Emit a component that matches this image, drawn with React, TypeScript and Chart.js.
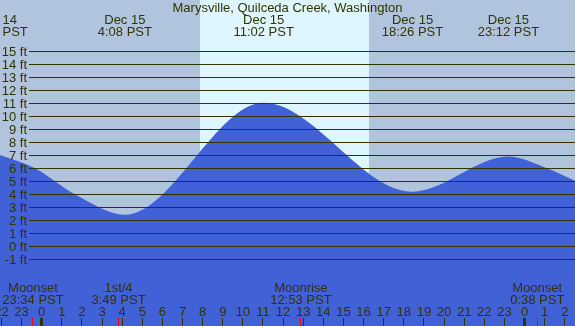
import React, { useEffect, useRef } from 'react';
import { Chart, registerables } from 'chart.js';

Chart.register(...registerables);

// ---- Data (hours relative to Dec 15 00:00 PST, heights in ft) ----
const tideHours = [-2.073, -0.333, 1.655, 4.133, 11.033, 18.433, 23.2, 25.11, 26.51];
const tideFeet = [7.02, 6, 4, 2.43, 11.05, 4.2, 6.9, 6, 5.05];

const extremeHours = [4.133, 11.033, 18.433, 23.2];
const extremeDates = ['Dec 15', 'Dec 15', 'Dec 15', 'Dec 15'];
const extremeTimes = ['4:08 PST', '11:02 PST', '18:26 PST', '23:12 PST'];

const moonHours = [-0.433, 3.817, 12.883, 24.633];
const moonNames = ['Moonset', '1st/4', 'Moonrise', 'Moonset'];
const moonTimes = ['23:34 PST', '3:49 PST', '12:53 PST', '0:38 PST'];

const sunriseHour = 7.87;
const sunsetHour = 16.27;

const hourTicks = [-2, -1, 0, 1, 2, 3, 4, 5, 6, 7, 8, 9, 10, 11, 12, 13, 14, 15, 16, 17, 18, 19, 20, 21, 22, 23, 24, 25, 26];
const hourLabels = ['22', '23', '0', '1', '2', '3', '4', '5', '6', '7', '8', '9', '10', '11', '12', '13', '14', '15', '16', '17', '18', '19', '20', '21', '22', '23', '0', '1', '2'];
const footTicks = [-1, 0, 1, 2, 3, 4, 5, 6, 7, 8, 9, 10, 11, 12, 13, 14, 15];

const TITLE = 'Marysville, Quilceda Creek, Washington';

const W = 575;
const H = 326;
const X_MIN = -2.073;
const X_MAX = 26.51;
const Y_MIN = -6.131;
const Y_MAX = 18.946;

const NIGHT = '#B0C4DE';
const DAY = '#DDF6FF';
const WATER = '#4161D6';
const INK = '#333300';
const FONT = '13px "Liberation Sans", Arial, sans-serif';

const decorPlugin = {
  id: 'tideDecor',
  beforeDraw(chart: any) {
    const { ctx, scales } = chart;
    const x = scales.x;
    ctx.save();
    ctx.fillStyle = NIGHT;
    ctx.fillRect(0, 0, W, H);
    const a = Math.round(x.getPixelForValue(sunriseHour));
    const b = Math.round(x.getPixelForValue(sunsetHour));
    ctx.fillStyle = DAY;
    ctx.fillRect(a, 0, b - a, H);
    ctx.restore();
  },
  afterDatasetsDraw(chart: any) {
    const { ctx, scales } = chart;
    const x = scales.x;
    const y = scales.y;
    ctx.save();
    ctx.font = FONT;
    ctx.fillStyle = INK;
    ctx.strokeStyle = INK;
    ctx.lineWidth = 1;
    footTicks.forEach((v) => {
      const py = Math.round(y.getPixelForValue(v)) + 0.5;
      ctx.beginPath();
      ctx.moveTo(29, py);
      ctx.lineTo(W, py);
      ctx.stroke();
      ctx.textAlign = 'right';
      ctx.textBaseline = 'alphabetic';
      ctx.fillText(v + ' ft', 27, py + 4);
    });

    ctx.textAlign = 'center';
    ctx.fillText(TITLE, W / 2, 12);

    ctx.textAlign = 'left';
    ctx.fillText('14', 2.5, 24);
    ctx.fillText('PST', 2.5, 36);

    ctx.textAlign = 'center';
    extremeHours.forEach((h, i) => {
      const px = x.getPixelForValue(h);
      ctx.fillText(extremeDates[i], px, 24);
      ctx.fillText(extremeTimes[i], px, 36);
    });

    moonHours.forEach((h, i) => {
      const px = x.getPixelForValue(h);
      ctx.fillText(moonNames[i], px, 292);
      ctx.fillText(moonTimes[i], px, 304);
    });

    hourTicks.forEach((h, i) => {
      const px = x.getPixelForValue(h);
      ctx.fillStyle = INK;
      ctx.textAlign = 'center';
      ctx.fillText(hourLabels[i], px, 316);
      const midnight = hourLabels[i] === '0';
      const w = midnight ? 3 : 1;
      ctx.fillRect(Math.round(px - w / 2), 318, w, H - 318);
    });

    ctx.fillStyle = '#FF0000';
    moonHours.forEach((h) => {
      const px = x.getPixelForValue(h);
      ctx.fillRect(Math.round(px - 0.5), 318, 1, H - 318);
    });
    ctx.restore();
  },
};

export default function App() {
  const ref = useRef<HTMLCanvasElement | null>(null);
  useEffect(() => {
    document.body.style.margin = '0';
    const canvas = ref.current;
    if (!canvas) return;
    const chart = new Chart(canvas, {
      type: 'line',
      data: {
        datasets: [
          {
            data: tideHours.map((h, i) => ({ x: h, y: tideFeet[i] })),
            fill: 'start',
            backgroundColor: WATER,
            borderColor: 'rgba(0,0,0,0)',
            borderWidth: 0,
            pointRadius: 0,
            cubicInterpolationMode: 'monotone',
          },
        ],
      },
      options: {
        animation: false,
        responsive: false,
        maintainAspectRatio: false,
        devicePixelRatio: 1,
        layout: { padding: 0 },
        events: [],
        plugins: {
          legend: { display: false },
          tooltip: { enabled: false },
          title: { display: false },
        },
        scales: {
          x: { type: 'linear', display: false, min: X_MIN, max: X_MAX },
          y: { type: 'linear', display: false, min: Y_MIN, max: Y_MAX },
        },
      },
      plugins: [decorPlugin],
    } as any);
    return () => chart.destroy();
  }, []);
  return (
    <div style={{ width: W, height: H }}>
      <canvas ref={ref} width={W} height={H} style={{ display: 'block', width: W, height: H }} />
    </div>
  );
}
